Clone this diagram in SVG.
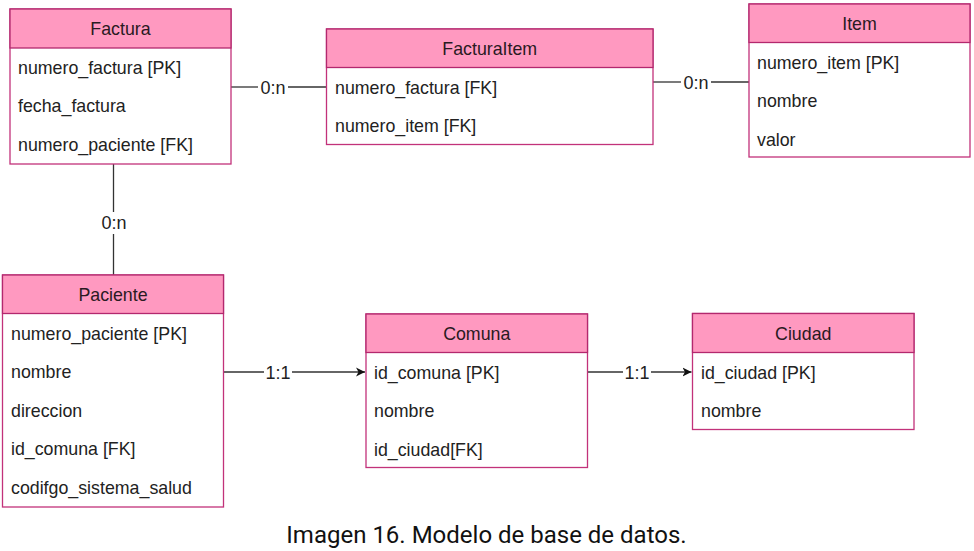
<svg xmlns="http://www.w3.org/2000/svg" width="974" height="551" viewBox="0 0 974 551">
<style>
.box{fill:#ffffff;stroke:#c2327a;stroke-width:1.3}
.hdr{fill:#ff99c0;stroke:#b3286e;stroke-width:1.3}
.title{font-family:"Liberation Sans",Arial,sans-serif;font-size:17.8px;fill:#2a1a22;text-anchor:middle}
.row{font-family:"Liberation Sans",Arial,sans-serif;font-size:17.8px;fill:#222222}
.lbl{font-family:"Liberation Sans",Arial,sans-serif;font-size:18px;fill:#222222;text-anchor:middle}
.edge{stroke:#333333;stroke-width:1.3;fill:none}
.cap{font-family:Roboto,"Liberation Sans",sans-serif;font-size:24px;fill:#111111;text-anchor:middle}
</style>
<defs>
<marker id="arr" markerWidth="10" markerHeight="10" refX="9" refY="5" orient="auto" markerUnits="userSpaceOnUse">
<path d="M0,0.5 L9,5 L0,9.5 L2.5,5 Z" fill="#111111"/>
</marker>
</defs>
<rect width="974" height="551" fill="#ffffff"/>

<g id="connectors">
<line class="edge" x1="231" y1="87" x2="258" y2="87"/>
<line class="edge" x1="288" y1="87" x2="326.5" y2="87"/>
<text class="lbl" x="273" y="93.5">0:n</text>

<line class="edge" x1="653" y1="82" x2="681" y2="82"/>
<line class="edge" x1="711" y1="82" x2="749" y2="82"/>
<text class="lbl" x="696" y="88.5">0:n</text>

<line class="edge" x1="113.5" y1="164" x2="113.5" y2="212"/>
<line class="edge" x1="113.5" y1="234" x2="113.5" y2="275"/>
<text class="lbl" x="114" y="228.5">0:n</text>

<line class="edge" x1="223.5" y1="372" x2="264" y2="372"/>
<line class="edge" x1="292" y1="372" x2="365" y2="372" marker-end="url(#arr)"/>
<text class="lbl" x="278" y="378.5">1:1</text>

<line class="edge" x1="587.5" y1="372" x2="623" y2="372"/>
<line class="edge" x1="651" y1="372" x2="691.5" y2="372" marker-end="url(#arr)"/>
<text class="lbl" x="637" y="378.5">1:1</text>
</g>

<g id="factura">
<rect class="box" x="10" y="9" width="221" height="155"/>
<rect class="hdr" x="10" y="9" width="221" height="39"/>
<text class="title" x="120.5" y="35">Factura</text>
<text class="row" x="18" y="74">numero_factura [PK]</text>
<text class="row" x="18" y="112">fecha_factura</text>
<text class="row" x="18" y="151">numero_paciente [FK]</text>
</g>

<g id="facturaitem">
<rect class="box" x="326.5" y="29" width="326.5" height="115.5"/>
<rect class="hdr" x="326.5" y="29" width="326.5" height="38.5"/>
<text class="title" x="489.75" y="55">FacturaItem</text>
<text class="row" x="335" y="93.5">numero_factura [FK]</text>
<text class="row" x="335" y="132">numero_item [FK]</text>
</g>

<g id="item">
<rect class="box" x="749" y="4" width="221" height="153"/>
<rect class="hdr" x="749" y="4" width="221" height="38.5"/>
<text class="title" x="859.5" y="30">Item</text>
<text class="row" x="757" y="68.5">numero_item [PK]</text>
<text class="row" x="757" y="107">nombre</text>
<text class="row" x="757" y="145.5">valor</text>
</g>

<g id="paciente">
<rect class="box" x="2.5" y="275" width="221" height="232"/>
<rect class="hdr" x="2.5" y="275" width="221" height="38.5"/>
<text class="title" x="113" y="301">Paciente</text>
<text class="row" x="11" y="339.5">numero_paciente [PK]</text>
<text class="row" x="11" y="378">nombre</text>
<text class="row" x="11" y="416.5">direccion</text>
<text class="row" x="11" y="455">id_comuna [FK]</text>
<text class="row" x="11" y="493.5">codifgo_sistema_salud</text>
</g>

<g id="comuna">
<rect class="box" x="366" y="314" width="221.5" height="153.5"/>
<rect class="hdr" x="366" y="314" width="221.5" height="38.5"/>
<text class="title" x="476.75" y="340">Comuna</text>
<text class="row" x="374" y="378.5">id_comuna [PK]</text>
<text class="row" x="374" y="417">nombre</text>
<text class="row" x="374" y="455.5">id_ciudad[FK]</text>
</g>

<g id="ciudad">
<rect class="box" x="692.5" y="313.5" width="221.5" height="116"/>
<rect class="hdr" x="692.5" y="313.5" width="221.5" height="39"/>
<text class="title" x="803.25" y="340">Ciudad</text>
<text class="row" x="701" y="378.5">id_ciudad [PK]</text>
<text class="row" x="701" y="417">nombre</text>
</g>

<text class="cap" x="486.5" y="543">Imagen 16. Modelo de base de datos.</text>
</svg>
